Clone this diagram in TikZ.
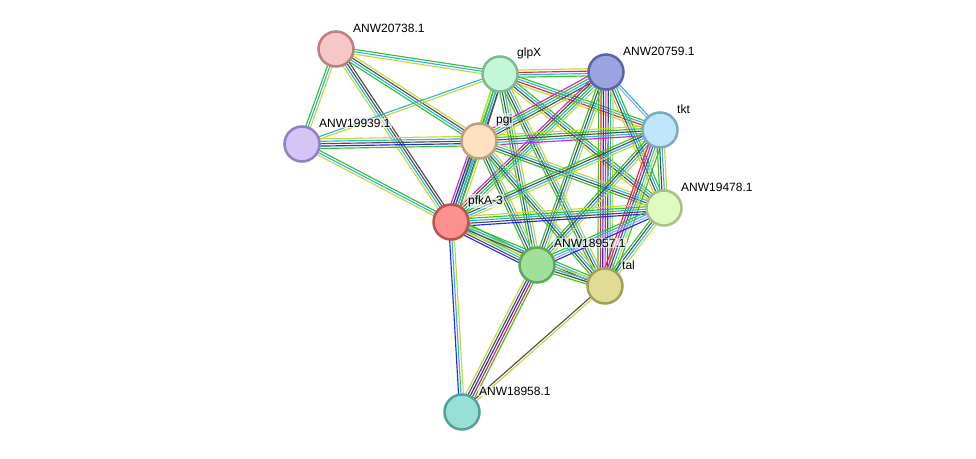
\documentclass[tikz,border=0pt]{standalone}
\usepackage{fontspec}
\setmainfont{Liberation Sans}
\usetikzlibrary{calc,backgrounds}

% evidence colours
\definecolor{ey}{HTML}{C4D83C}
\definecolor{eg}{HTML}{33C233}
\definecolor{ec}{HTML}{2EB6DC}
\definecolor{ek}{HTML}{505050}
\definecolor{eb}{HTML}{2828F0}
\definecolor{er}{HTML}{F02424}
\definecolor{em}{HTML}{D424D4}
\definecolor{el}{HTML}{A4A4F8}

% one bundle of parallel lines from #1 to #2
\newcommand{\stringedge}[3]{%
  \foreach \c [count=\k] in {#3} {\xdef\nlines{\k}}%
  \foreach \c [count=\k] in {#3} {%
    \pgfmathsetmacro{\off}{(\k-(\nlines+1)/2)*2.4}%
    \draw[color=\c, line width=1.15pt] ($(#1)!\off pt!90:(#2)$) -- ($(#2)!\off pt!-90:(#1)$);
  }}

\begin{document}
\begin{tikzpicture}[x=1pt, y=-1pt,
    prot/.style={circle, minimum size=35pt, inner sep=0pt, line width=2.5pt},
    lbl/.style={fill=white, fill opacity=0.6, text opacity=1, inner sep=1pt,
                anchor=west, font=\fontsize{12}{13}\selectfont}]

\useasboundingbox (0,0) rectangle (976,458);

% Proteins
\node[prot, fill={rgb,255:red,247;green,198;blue,198}, draw={rgb,255:red,184;green,128;blue,128}] (A) at (336,49) {};
\node[prot, fill={rgb,255:red,194;green,247;blue,216}, draw={rgb,255:red,128;green,184;blue,150}] (G) at (500,74) {};
\node[prot, fill={rgb,255:red,154;green,164;blue,224}, draw={rgb,255:red,90;green,100;blue,168}] (V) at (606,72) {};
\node[prot, fill={rgb,255:red,192;green,230;blue,250}, draw={rgb,255:red,124;green,168;blue,196}] (T) at (660,130) {};
\node[prot, fill={rgb,255:red,212;green,196;blue,247}, draw={rgb,255:red,148;green,128;blue,192}] (C) at (302,144) {};
\node[prot, fill={rgb,255:red,253;green,224;blue,192}, draw={rgb,255:red,192;green,160;blue,128}] (P) at (479,141) {};
\node[prot, fill={rgb,255:red,255;green,144;blue,144}, draw={rgb,255:red,192;green,80;blue,80}] (F) at (451,222) {};
\node[prot, fill={rgb,255:red,160;green,224;blue,154}, draw={rgb,255:red,96;green,168;blue,88}] (E) at (537,265) {};
\node[prot, fill={rgb,255:red,224;green,220;blue,150}, draw={rgb,255:red,160;green,160;blue,88}] (L) at (605,286) {};
\node[prot, fill={rgb,255:red,224;green,251;blue,192}, draw={rgb,255:red,168;green,192;blue,136}] (H) at (664,208) {};
\node[prot, fill={rgb,255:red,150;green,224;blue,214}, draw={rgb,255:red,86;green,160;blue,154}] (D) at (462,412) {};

% Labels
\node[lbl] (lA) at ($(A)+(16,-21)$) {ANW20738.1};
\node[lbl] (lG) at ($(G)+(16,-21)$) {glpX};
\node[lbl] (lV) at ($(V)+(16,-21)$) {ANW20759.1};
\node[lbl] (lT) at ($(T)+(16,-21)$) {tkt};
\node[lbl] (lC) at ($(C)+(16,-21)$) {ANW19939.1};
\node[lbl] (lP) at ($(P)+(16,-21)$) {pgi};
\node[lbl] (lF) at ($(F)+(16,-21)$) {pfkA-3};
\node[lbl] (lE) at ($(E)+(16,-22)$) {ANW18957.1};
\node[lbl] (lL) at ($(L)+(16,-21)$) {tal};
\node[lbl] (lH) at ($(H)+(16,-21)$) {ANW19478.1};
\node[lbl] (lD) at ($(D)+(16,-21)$) {ANW18958.1};

% Interactions
\begin{pgfonlayer}{background}
    \stringedge{A}{G}{ey,ec,eg}
    \stringedge{A}{C}{eg,ec,ey}
    \stringedge{A}{P}{eg,ec,ek,ey}
    \stringedge{A}{F}{ey,ec,ek,ek}
    \stringedge{C}{G}{ey,ec}
    \stringedge{C}{P}{eg,eb,ek,ec,ey}
    \stringedge{C}{F}{ey,ec,eg}

    \stringedge{G}{V}{eg,ec,er,ey}
    \stringedge{G}{T}{ey,er,ec,eg}
    \stringedge{G}{P}{ey,eg,ec,ek}
    \stringedge{G}{F}{ey,eg,ec,ek}
    \stringedge{G}{E}{eg,ek,ec,ey}
    \stringedge{G}{L}{eg,ek,ec,ey}
    \stringedge{G}{H}{ey,ek,ec,eg}

    \stringedge{V}{P}{em,eg,ec,ek,ey}
    \stringedge{V}{F}{em,ek,eg,ec,ey}
    \stringedge{V}{E}{eg,ek,ec,ey}
    \stringedge{V}{L}{eg,er,eb,em,ek,ec,ey}
    \stringedge{V}{T}{el,ec}
    \stringedge{V}{H}{ey,ek,ec,eg}

    \stringedge{P}{T}{em,ec,ek,eg,ey}
    \stringedge{P}{H}{eg,ek,ec,ey}
    \stringedge{P}{F}{em,eb,ek,ec,eg,ey}
    \stringedge{P}{E}{eg,ek,ec,ey}
    \stringedge{P}{L}{eg,ek,ec,ey}

    \stringedge{T}{F}{eg,ek,ec,ey}
    \stringedge{T}{E}{eg,ek,ec,ey}
    \stringedge{T}{L}{er,em,ek,ec,ey,eg}
    \stringedge{T}{H}{eg,ek,ec,ey}

    \stringedge{F}{H}{eb,ek,ec,eg,ey}
    \stringedge{F}{E}{eb,ek,ec,eg,ey,eg}
    \stringedge{F}{L}{ey,ek,ec,eg}
    \stringedge{F}{D}{eb,ec,ey}

    \stringedge{E}{H}{eb,el,ec,eg}
    \stringedge{E}{L}{eg,ek,ec,ey}
    \stringedge{E}{D}{ey,ek,eb,er,eg}

    \stringedge{L}{H}{ey,ec,ek,eg}
    \stringedge{L}{D}{ek,ey}
\end{pgfonlayer}

\end{tikzpicture}
\end{document}
